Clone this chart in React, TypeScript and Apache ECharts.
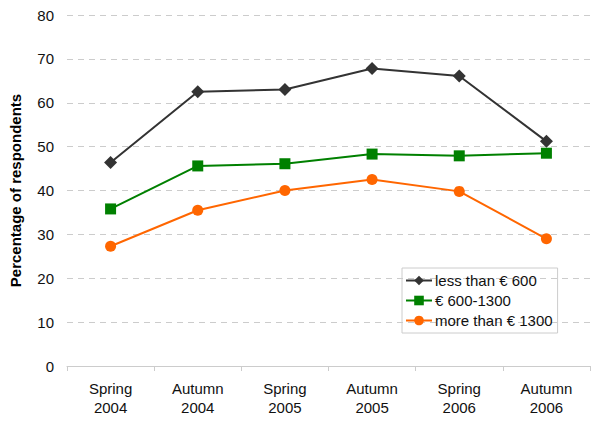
import React, { useEffect, useRef } from "react";
import * as echarts from "echarts";

const categories = ["Spring\n2004", "Autumn\n2004", "Spring\n2005", "Autumn\n2005", "Spring\n2006", "Autumn\n2006"];
const lessThan600 = [46.4, 62.5, 63.0, 67.8, 66.1, 51.2];
const between600and1300 = [35.8, 45.6, 46.1, 48.3, 47.9, 48.5];
const moreThan1300 = [27.3, 35.5, 40.0, 42.5, 39.8, 29.0];
const yTicks = { min: 0, max: 80, interval: 10 };

const FONT = "'Liberation Sans', Arial, sans-serif";

export default function App() {
  const ref = useRef<HTMLDivElement>(null);
  useEffect(() => {
    if (!ref.current) return;
    const chart = echarts.init(ref.current, undefined, { renderer: "svg" });
    chart.setOption({
      animation: false,
      backgroundColor: "#ffffff",
      textStyle: { fontFamily: FONT },
      grid: { left: 62, right: 10, top: 15, bottom: 59, containLabel: false },
      legend: {
        orient: "vertical",
        left: 402,
        top: 268,
        padding: [5, 5, 5, 3],
        borderColor: "#cccccc",
        borderWidth: 1,
        itemWidth: 26,
        itemHeight: 12,
        itemGap: 5,
        textStyle: { fontFamily: FONT, fontSize: 15, color: "#111111", padding: [0, 0, 0, -2] },
        data: ["less than € 600", "€ 600-1300", "more than € 1300"],
      },
      xAxis: {
        type: "category",
        data: categories,
        boundaryGap: true,
        axisLine: { lineStyle: { color: "#cccccc", width: 1 } },
        axisTick: { show: true, length: 5, lineStyle: { color: "#cccccc" } },
        axisLabel: { fontFamily: FONT, fontSize: 15, color: "#111111", lineHeight: 19, margin: 13 },
        splitLine: { show: false },
      },
      yAxis: {
        type: "value",
        min: yTicks.min,
        max: yTicks.max,
        interval: yTicks.interval,
        name: "Percentage of respondents",
        nameLocation: "middle",
        nameGap: 44,
        nameTextStyle: { fontFamily: FONT, fontSize: 15, fontWeight: "bold", color: "#000000" },
        axisLine: { show: false },
        axisTick: { show: false },
        axisLabel: { fontFamily: FONT, fontSize: 15, color: "#111111", margin: 13 },
        splitLine: { show: true, lineStyle: { color: "#cccccc", type: [6, 5], width: 1 } },
      },
      series: [
        {
          name: "less than € 600",
          type: "line",
          data: lessThan600,
          symbol: "diamond",
          symbolSize: 13,
          itemStyle: { color: "#333333" },
          lineStyle: { color: "#333333", width: 2 },
        },
        {
          name: "€ 600-1300",
          type: "line",
          data: between600and1300,
          symbol: "rect",
          symbolSize: 11,
          itemStyle: { color: "#008000" },
          lineStyle: { color: "#008000", width: 2 },
        },
        {
          name: "more than € 1300",
          type: "line",
          data: moreThan1300,
          symbol: "circle",
          symbolSize: 11,
          itemStyle: { color: "#ff6600" },
          lineStyle: { color: "#ff6600", width: 2 },
        },
      ],
    });
    return () => chart.dispose();
  }, []);
  return <div ref={ref} style={{ width: 600, height: 425, position: "absolute", left: 0, top: 0 }} />;
}
